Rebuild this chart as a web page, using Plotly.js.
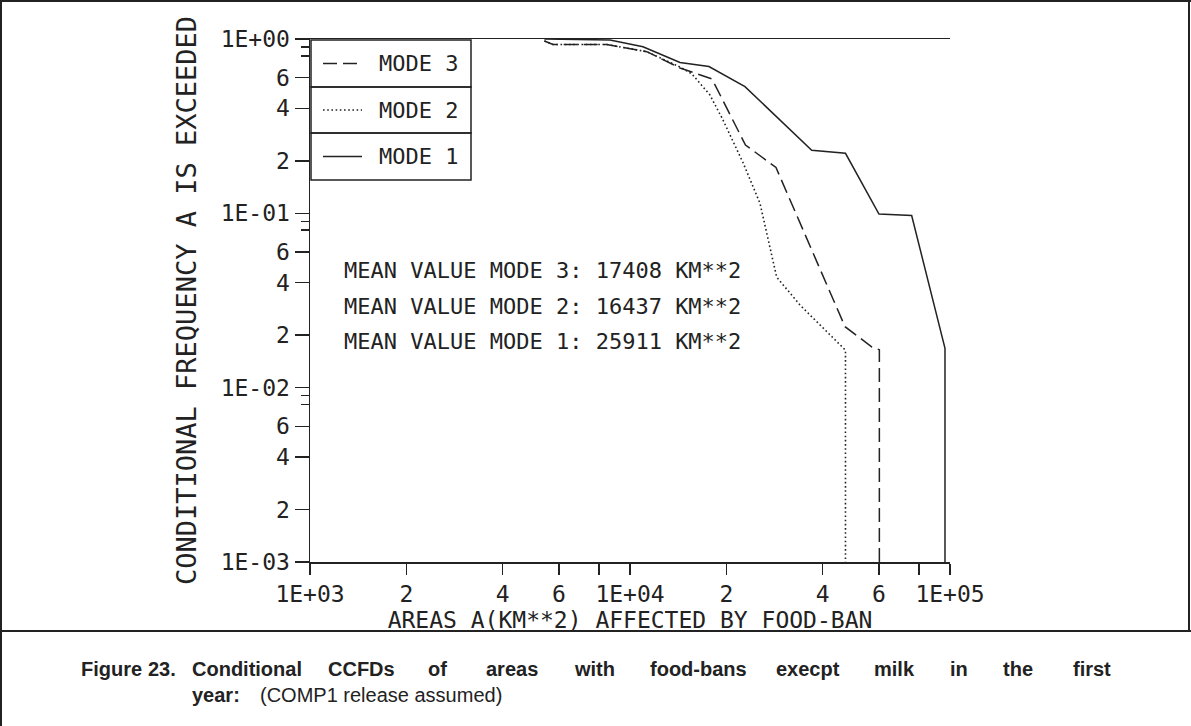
<!DOCTYPE html>
<html>
<head>
<meta charset="utf-8">
<script src="https://cdn.plot.ly/plotly-3.0.1.min.js"></script>
<style>html,body{margin:0;padding:0;background:#fff;}#chart{width:1191px;height:726px;}</style>
</head>
<body>
<div id="chart"></div>
<script>
// ---- data ----
const MODE1_AREA = [5400, 8660, 10980, 14330, 17650, 22870, 36970, 47140, 59980, 75890, 96460, 96460];
const MODE1_FREQ = [1.0, 0.987, 0.903, 0.733, 0.695, 0.533, 0.230, 0.221, 0.0991, 0.0972, 0.0168, 0.001];

const MODE2_AREA = [5400, 5745, 8475, 10000, 11280, 14330, 15620, 17780, 19530, 22600, 25480, 28730, 33970, 47140, 47140];
const MODE2_FREQ = [0.974, 0.930, 0.930, 0.885, 0.846, 0.691, 0.630, 0.477, 0.343, 0.1936, 0.1142, 0.0431, 0.0298, 0.0164, 0.001];

const MODE3_AREA = [5400, 5745, 8475, 10000, 11280, 14330, 18040, 22950, 28590, 46980, 57020, 60150, 60150];
const MODE3_FREQ = [0.974, 0.930, 0.930, 0.885, 0.846, 0.682, 0.590, 0.2466, 0.1832, 0.02238, 0.0171, 0.0165, 0.001];

const SERIES_NAMES = ["MODE 3", "MODE 2", "MODE 1"];
const MEAN_TEXTS = ["MEAN VALUE MODE 3: 17408 KM**2", "MEAN VALUE MODE 2: 16437 KM**2", "MEAN VALUE MODE 1: 25911 KM**2"];

const X_TICKVALS = [1000, 2000, 4000, 6000, 8000, 10000, 20000, 40000, 60000, 80000, 100000];
const X_TICKTEXT = ["1E+03", "2", "4", "6", "", "1E+04", "2", "4", "6", "", "1E+05"];
const Y_TICKVALS = [1, 0.6, 0.4, 0.2, 0.1, 0.06, 0.04, 0.02, 0.01, 0.006, 0.004, 0.002, 0.001];
const Y_TICKTEXT = ["1E+00", "6", "4", "2", "1E-01", "6", "4", "2", "1E-02", "6", "4", "2", "1E-03"];
const Y_MINORVALS = [0.9, 0.8, 0.09, 0.08, 0.009, 0.008];

const X_TITLE = "AREAS A(KM**2) AFFECTED BY FOOD-BAN";
const Y_TITLE = "CONDITIONAL FREQUENCY A IS EXCEEDED";
const CAPTION_LINE1 = ["Figure", "23.", "Conditional", "CCFDs", "of", "areas", "with", "food-bans", "execpt", "milk", "in", "the", "first"];
const CAPTION_LINE2_BOLD = "year:";
const CAPTION_LINE2_REG = "(COMP1 release assumed)";

// ---- layout geometry ----
const W = 1191, H = 726;
const ML = 310, MR = 241, MT = 39, MB = 164;
const PW = W - ML - MR, PH = H - MT - MB;
const px = x => (x - ML) / PW;
const py = y => (H - MB - y) / PH;

const MONO = "DejaVu Sans Mono, Liberation Mono, monospace";
const INK = "#222222";

const traces = [
  {x: MODE3_AREA, y: MODE3_FREQ, name: SERIES_NAMES[0], mode: "lines", line: {color: INK, width: 1.5, dash: "14px,6px"}},
  {x: MODE2_AREA, y: MODE2_FREQ, name: SERIES_NAMES[1], mode: "lines", line: {color: INK, width: 1.6, dash: "1.6px,2.6px"}},
  {x: MODE1_AREA, y: MODE1_FREQ, name: SERIES_NAMES[2], mode: "lines", line: {color: INK, width: 1.5}}
];

const shapes = [];
const annotations = [];

// legend boxes
const legendRows = [[40, 87], [87, 133], [133, 180]];
const legendDash = ["14px,6px", "1.6px,2.6px", "solid"];
legendRows.forEach((r, i) => {
  shapes.push({type: "rect", xref: "paper", yref: "paper", x0: px(311), x1: px(471), y0: py(r[0]), y1: py(r[1]),
    line: {color: INK, width: 1.5}, fillcolor: "rgba(0,0,0,0)"});
  const cy = (r[0] + r[1]) / 2;
  shapes.push({type: "line", xref: "paper", yref: "paper", x0: px(323), x1: px(362), y0: py(cy), y1: py(cy),
    line: {color: INK, width: 1.5, dash: legendDash[i]}});
  annotations.push({xref: "paper", yref: "paper", x: px(377), y: py(cy), xanchor: "left", yanchor: "middle",
    text: SERIES_NAMES[i], showarrow: false, font: {family: MONO, size: 22, color: INK}});
});

// mean value texts
[270, 306, 341].forEach((yy, i) => {
  annotations.push({xref: "paper", yref: "paper", x: px(342), y: py(yy), xanchor: "left", yanchor: "middle",
    text: MEAN_TEXTS[i], showarrow: false, font: {family: MONO, size: 22, color: INK}});
});

// outer frame
shapes.push({type: "line", xref: "paper", yref: "paper", x0: px(1), x1: px(1), y0: py(0), y1: py(726), line: {color: INK, width: 2}});
shapes.push({type: "line", xref: "paper", yref: "paper", x0: px(0), x1: px(1191), y0: py(1), y1: py(1), line: {color: INK, width: 2}});
shapes.push({type: "line", xref: "paper", yref: "paper", x0: px(1189), x1: px(1189), y0: py(0), y1: py(631), line: {color: INK, width: 2}});
shapes.push({type: "line", xref: "paper", yref: "paper", x0: px(0), x1: px(1191), y0: py(631), y1: py(631), line: {color: INK, width: 2}});

// caption (justified words)
const CAP_FONT = "Liberation Sans Narrow, Arial Narrow, Liberation Sans, Arial, sans-serif";
const capLeft = [79, 146, 190, 326, 426, 484, 572, 648, 774, 872, 948, 1001, 1071];
CAPTION_LINE1.forEach((w, i) => {
  annotations.push({xref: "paper", yref: "paper", x: px(capLeft[i]), y: py(669), xanchor: "left", yanchor: "middle",
    text: "<b>" + w + "</b>", showarrow: false, font: {family: CAP_FONT, size: 20, color: INK}});
});
annotations.push({xref: "paper", yref: "paper", x: px(190), y: py(695), xanchor: "left", yanchor: "middle",
  text: "<b>" + CAPTION_LINE2_BOLD + "</b>", showarrow: false, font: {family: CAP_FONT, size: 20, color: INK}});
annotations.push({xref: "paper", yref: "paper", x: px(258), y: py(695), xanchor: "left", yanchor: "middle",
  text: CAPTION_LINE2_REG, showarrow: false, font: {family: CAP_FONT, size: 20, color: INK}});

const layout = {
  width: W, height: H,
  margin: {l: ML, r: MR, t: MT, b: MB, pad: 0},
  paper_bgcolor: "#fff", plot_bgcolor: "#fff",
  showlegend: false,
  xaxis: {
    type: "log", range: [3, 5], showgrid: false, zeroline: false,
    showline: true, mirror: true, linecolor: INK, linewidth: 1.5,
    ticks: "outside", ticklen: 11, tickwidth: 1.5, tickcolor: INK,
    tickmode: "array", tickvals: X_TICKVALS, ticktext: X_TICKTEXT,
    tickfont: {family: MONO, size: 23, color: INK},
    title: {text: X_TITLE, font: {family: MONO, size: 23, color: INK}, standoff: 0},
    automargin: false
  },
  yaxis: {
    type: "log", range: [-3, 0], showgrid: false, zeroline: false,
    showline: true, mirror: false, linecolor: INK, linewidth: 1.5,
    ticks: "outside", ticklen: 14, tickwidth: 1.5, tickcolor: INK,
    tickmode: "array", tickvals: Y_TICKVALS, ticktext: Y_TICKTEXT,
    minor: {tickmode: "array", tickvals: Y_MINORVALS, ticks: "outside", ticklen: 8, tickwidth: 1.5, tickcolor: INK, showgrid: false},
    tickfont: {family: MONO, size: 23, color: INK},
    title: {text: Y_TITLE, font: {family: MONO, size: 27, color: INK}, standoff: 16},
    automargin: false
  },
  shapes: shapes,
  annotations: annotations
};

Plotly.newPlot("chart", traces, layout, {displayModeBar: false, staticPlot: true});
</script>
</body>
</html>
